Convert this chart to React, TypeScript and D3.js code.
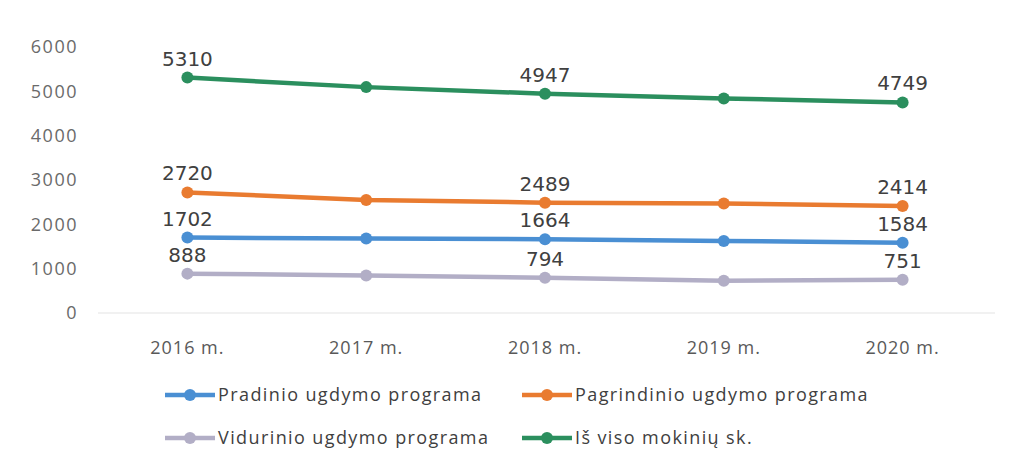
import React from "react";
import * as d3 from "d3";

const categories = ["2016 m.", "2017 m.", "2018 m.", "2019 m.", "2020 m."];
const pradinio = [1702, 1680, 1664, 1625, 1584];
const pagrindinio = [2720, 2550, 2489, 2470, 2414];
const vidurinio = [888, 845, 794, 730, 751];
const isViso = [5310, 5095, 4947, 4840, 4749];
const yTicks = [0, 1000, 2000, 3000, 4000, 5000, 6000];
const labelIdx = [0, 2, 4];

const series = [
  { name: "Pradinio ugdymo programa", values: pradinio, color: "#4a8fd3" },
  { name: "Pagrindinio ugdymo programa", values: pagrindinio, color: "#e97b30" },
  { name: "Vidurinio ugdymo programa", values: vidurinio, color: "#b2aec6" },
  { name: "Iš viso mokinių sk.", values: isViso, color: "#2b8f5e" },
];

const W = 1014, H = 473;

export default function App() {
  const x = d3.scaleBand<string>().domain(categories).range([98, 992]);
  const y = d3.scaleLinear().domain([0, 6000]).range([313, 47]);
  const cx = (c: string) => (x(c) as number) + x.bandwidth() / 2;
  const line = d3
    .line<number>()
    .x((_, i) => cx(categories[i]))
    .y((v) => y(v));

  const legendPos = [
    { x: 165, y: 395 },
    { x: 522, y: 395 },
    { x: 165, y: 438 },
    { x: 522, y: 438 },
  ];

  return (
    <svg
      width={W}
      height={H}
      style={{ position: "absolute", left: 0, top: 0, background: "#fff" }}
      fontFamily="'Open Sans', Lato, sans-serif"
    >
      <line x1={98} x2={995} y1={y(0)} y2={y(0)} stroke="#e3e3e3" strokeWidth={1} />
      {yTicks.map((t) => (
        <text
          key={t}
          x={78}
          y={y(t)}
          dy="0.35em"
          textAnchor="end"
          fontSize={18}
          letterSpacing={1.5}
          fill="#6a6a6a"
        >
          {t}
        </text>
      ))}
      {categories.map((c) => (
        <text
          key={c}
          x={cx(c)}
          y={354}
          textAnchor="middle"
          fontSize={18}
          letterSpacing={1}
          fill="#595959"
        >
          {c}
        </text>
      ))}
      {series.map((s) => (
        <g key={s.name}>
          <path d={line(s.values) || ""} fill="none" stroke={s.color} strokeWidth={4.5} />
          {s.values.map((v, i) => (
            <circle key={i} cx={cx(categories[i])} cy={y(v)} r={6} fill={s.color} />
          ))}
          {labelIdx.map((i) => (
            <text
              key={i}
              x={cx(categories[i])}
              y={y(s.values[i]) - 12}
              textAnchor="middle"
              fontSize={20}
              fontFamily="'DejaVu Sans', sans-serif"
              fill="#404040"
            >
              {s.values[i]}
            </text>
          ))}
        </g>
      ))}
      {series.map((s, k) => {
        const p = legendPos[k];
        return (
          <g key={s.name}>
            <line x1={p.x} x2={p.x + 50} y1={p.y} y2={p.y} stroke={s.color} strokeWidth={4.5} />
            <circle cx={p.x + 25} cy={p.y} r={6} fill={s.color} />
            <text
              x={p.x + 53}
              y={p.y}
              dy="0.35em"
              fontSize={18}
              letterSpacing={1.4}
              fill="#404040"
            >
              {s.name}
            </text>
          </g>
        );
      })}
    </svg>
  );
}
